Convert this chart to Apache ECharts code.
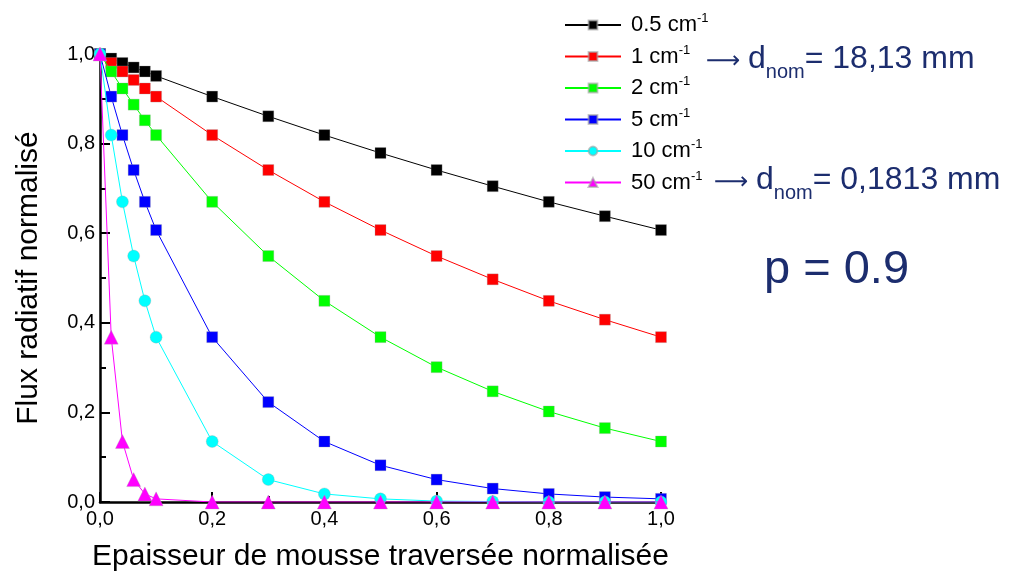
<!DOCTYPE html>
<html>
<head>
<meta charset="utf-8">
<script src="https://cdn.jsdelivr.net/npm/echarts@6/dist/echarts.min.js"></script>
<style>html,body{margin:0;padding:0;background:#fff;}#c{width:1011px;height:577px;}</style>
</head>
<body>
<div id="c"></div>
<script>
const xValues = [0, 0.02, 0.04, 0.06, 0.08, 0.1, 0.2, 0.3, 0.4, 0.5, 0.6, 0.7, 0.8, 0.9, 1.0];
const k05 = [1.0, 0.990, 0.980, 0.970, 0.961, 0.951, 0.905, 0.861, 0.819, 0.779, 0.741, 0.705, 0.670, 0.638, 0.607];
const k1  = [1.0, 0.980, 0.961, 0.942, 0.923, 0.905, 0.819, 0.741, 0.670, 0.607, 0.549, 0.497, 0.449, 0.407, 0.368];
const k2  = [1.0, 0.961, 0.923, 0.887, 0.852, 0.819, 0.670, 0.549, 0.449, 0.368, 0.301, 0.247, 0.202, 0.165, 0.135];
const k5  = [1.0, 0.905, 0.819, 0.741, 0.670, 0.607, 0.368, 0.223, 0.135, 0.082, 0.050, 0.030, 0.018, 0.011, 0.007];
const k10 = [1.0, 0.819, 0.670, 0.549, 0.449, 0.368, 0.135, 0.050, 0.018, 0.007, 0.002, 0.001, 0.0, 0.0, 0.0];
const k50 = [1.0, 0.368, 0.135, 0.050, 0.018, 0.007, 0.0, 0.0, 0.0, 0.0, 0.0, 0.0, 0.0, 0.0, 0.0];
const seriesNames = ['0.5', '1', '2', '5', '10', '50'];
const seriesData = [k05, k1, k2, k5, k10, k50];
const seriesColors = ['#000000', '#ff0000', '#00ff00', '#0000ff', '#00ffff', '#ff00ff'];
const seriesSymbols = ['rect', 'rect', 'rect', 'rect', 'circle', 'triangle'];
const xTitle = 'Epaisseur de mousse traversée normalisée';
const yTitle = 'Flux radiatif normalisé';

const chart = echarts.init(document.getElementById('c'));
const series = seriesNames.map((n, i) => ({
  name: n,
  type: 'line',
  data: xValues.map((x, j) => [x, seriesData[i][j]]),
  symbol: seriesSymbols[i],
  symbolSize: seriesSymbols[i] === 'triangle' ? 14 : (seriesSymbols[i] === 'circle' ? 12 : 11),
  lineStyle: { color: seriesColors[i], width: 1 },
  itemStyle: { color: seriesColors[i], borderColor: 'rgba(160,160,160,0.6)', borderWidth: 0.5 },
  emphasis: { disabled: true },
  z: 2 + i,
  animation: false
}));

const fmt = v => v.toFixed(1).replace('.', ',');
const navy = '#1c2d6e';
const annRich = {
  arr: { fontSize: 24, fontFamily: 'DejaVu Sans', fill: navy, verticalAlign: 'bottom', padding: [0, 0, 1, 0] },
  t: { fontSize: 32, fontFamily: 'Liberation Sans', fill: navy, verticalAlign: 'bottom' },
  sub: { fontSize: 20, fontFamily: 'Liberation Sans', fill: navy, verticalAlign: 'bottom', padding: [0, 0, -7, 0] }
};

chart.setOption({
  animation: false,
  grid: { left: 100, right: 350, top: 54, bottom: 72, containLabel: false },
  legend: {
    orient: 'vertical',
    left: 559,
    top: 7,
    itemWidth: 56,
    itemHeight: 11,
    itemGap: 7.5,
    data: seriesNames,
    formatter: n => '{a|' + n + ' cm}{s|-1}',
    textStyle: {
      color: '#000',
      fontFamily: 'Liberation Sans, Arial, sans-serif',
      rich: {
        a: { fontSize: 22, lineHeight: 26, fontFamily: 'Liberation Sans', color: '#000', padding: [0, 0, 0, 5] },
        s: { fontSize: 13, fontFamily: 'Liberation Sans', color: '#000', verticalAlign: 'top', padding: [0, 0, 10, 0] }
      }
    }
  },
  xAxis: {
    type: 'value',
    min: 0, max: 1, interval: 0.2,
    name: xTitle,
    nameLocation: 'middle',
    nameGap: 40,
    nameTextStyle: { fontSize: 30, fontFamily: 'Liberation Sans', color: '#000' },
    axisLine: { lineStyle: { color: '#000', width: 2.5 } },
    axisTick: { inside: true, length: 10, lineStyle: { color: '#000', width: 2 } },
    minorTick: { show: true, splitNumber: 2, length: 6, lineStyle: { color: '#000', width: 2 } },
    axisLabel: { formatter: fmt, fontSize: 20, fontFamily: 'Liberation Sans', color: '#000', margin: 7 },
    splitLine: { show: false }
  },
  yAxis: {
    type: 'value',
    min: 0, max: 1, interval: 0.2,
    name: yTitle,
    nameLocation: 'middle',
    nameGap: 56,
    nameTextStyle: { fontSize: 30, fontFamily: 'Liberation Sans', color: '#000' },
    axisLine: { show: true, lineStyle: { color: '#000', width: 2.5 } },
    axisTick: { show: true, inside: true, length: 10, lineStyle: { color: '#000', width: 2 } },
    minorTick: { show: true, splitNumber: 2, length: 6, lineStyle: { color: '#000', width: 2 } },
    axisLabel: { formatter: fmt, fontSize: 20, fontFamily: 'Liberation Sans', color: '#000', margin: 5 },
    splitLine: { show: false }
  },
  graphic: [
    {
      type: 'text', left: 706, top: 43,
      style: { text: '{arr|⟶ }{t|d}{sub|nom}{t|= 18,13 mm}', rich: annRich }
    },
    {
      type: 'text', left: 714, top: 164,
      style: { text: '{arr|⟶ }{t|d}{sub|nom}{t|= 0,1813 mm}', rich: annRich }
    },
    {
      type: 'text', left: 764, top: 247,
      style: { text: 'p = 0.9', fontSize: 47, fontFamily: 'Liberation Sans', fill: navy }
    }
  ],
  series: series
});
</script>
</body>
</html>
